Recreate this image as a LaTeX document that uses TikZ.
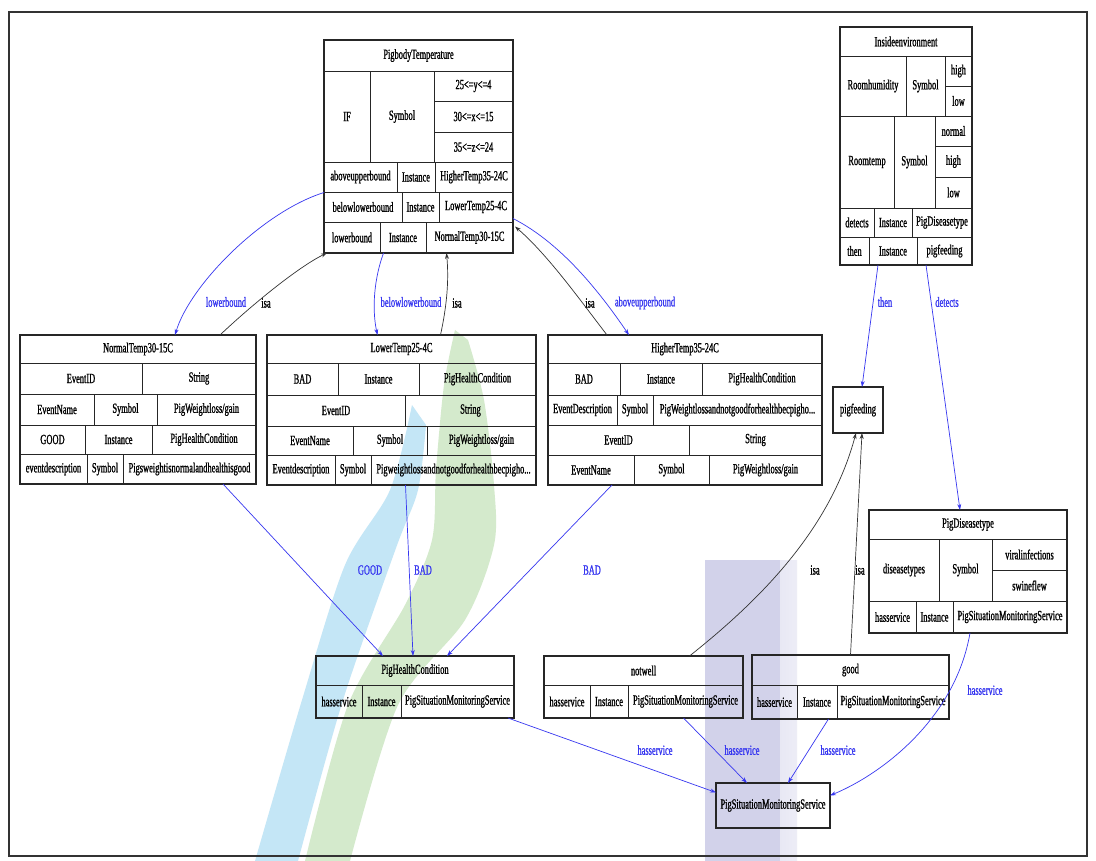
\documentclass[tikz,border=0pt]{standalone}
\usepackage{fontspec}
\setmainfont{Liberation Serif}
\newfontfamily\cellfont[FakeStretch=0.6,FakeBold=1]{Liberation Serif}
\usetikzlibrary{arrows.meta,calc,fit}

\definecolor{edgeblue}{RGB}{55,55,240}
\definecolor{wmblue}{RGB}{196,230,246}
\definecolor{wmgreen}{RGB}{212,234,204}
\definecolor{wmpurple}{RGB}{210,210,234}

\tikzset{
  cellnode/.style={draw=black!85, line width=0.9pt, inner sep=0pt, outer sep=0pt,
    font=\cellfont\fontsize{14}{15}\selectfont},
  tablebox/.style={draw=black!85, line width=1.3pt, inner sep=0pt, outer sep=0pt},
  rel/.style={line width=0.7pt, -{Stealth[length=6pt,width=4pt]}},
  blueedge/.style={rel, draw=edgeblue},
  isaedge/.style={rel, draw=black!80},
  elabel/.style={font=\cellfont\fontsize{14}{15}\selectfont, text=edgeblue, inner sep=1pt},
  isalabel/.style={elabel, text=black},
}

% one record cell: name, x1, y1, x2, y2, text (pixel units, y downwards)
\newcommand\cell[6]{%
  \node[cellnode, minimum width={(#4-#2)*1pt}, minimum height={(#5-#3)*1pt}]
    (#1) at ({(#2+#4)/2},{(#3+#5)/2}) {\makebox[0pt]{#6}};}

\begin{document}
\begin{tikzpicture}[x=1pt,y=-1pt]
\useasboundingbox (0,0) rectangle (1096,861);
\fill[white] (0,0) rectangle (1096,861);

% background emblem
\fill[left color=wmpurple, right color=wmpurple!40] (705,560) rectangle (797,861);
\fill[wmpurple] (705,560) rectangle (780,861);
\fill[wmblue] plot[smooth] coordinates {(255,861)(302,700)(345,565)(390,490)(412,405)}
  -- plot[smooth] coordinates {(426,425)(418,490)(396,548)(343,700)(298,861)} -- cycle;
\fill[wmgreen] plot[smooth] coordinates {(305,861)(348,705)(405,605)(432,540)(436,470)(444,385)(455,330)}
  -- plot[smooth] coordinates {(468,340)(484,400)(494,485)(494,545)(465,620)(398,705)(350,861)} -- cycle;

% frame
\draw[black!80, line width=1.2pt] (9,12) rectangle (1087,856);

% ---------------- PigbodyTemperature
\cell{pt-h}{324}{40}{513}{71}{PigbodyTemperature}
\cell{pt-if}{324}{71}{370}{162}{IF}
\cell{pt-sym}{370}{71}{434}{162}{Symbol}
\cell{pt-v1}{434}{71}{513}{101}{25<=y<=4}
\cell{pt-v2}{434}{101}{513}{132}{30<=x<=15}
\cell{pt-v3}{434}{132}{513}{162}{35<=z<=24}
\cell{pt-a1}{324}{162}{397}{192}{aboveupperbound}
\cell{pt-a2}{397}{162}{435}{192}{Instance}
\cell{pt-a3}{435}{162}{513}{192}{HigherTemp35-24C}
\cell{pt-b1}{324}{192}{402}{222}{belowlowerbound}
\cell{pt-b2}{402}{192}{439}{222}{Instance}
\cell{pt-b3}{439}{192}{513}{222}{LowerTemp25-4C}
\cell{pt-c1}{324}{222}{380}{253}{lowerbound}
\cell{pt-c2}{380}{222}{426}{253}{Instance}
\cell{pt-c3}{426}{222}{513}{253}{NormalTemp30-15C}
\node[tablebox, fit=(pt-h)(pt-c1)(pt-c3)] (pt) {};

% ---------------- Insideenvironment
\cell{ie-h}{840}{27}{972}{56}{Insideenvironment}
\cell{ie-rh}{840}{56}{906}{116}{Roomhumidity}
\cell{ie-s1}{906}{56}{945}{116}{Symbol}
\cell{ie-hh}{945}{56}{972}{86}{high}
\cell{ie-hl}{945}{86}{972}{116}{low}
\cell{ie-rt}{840}{116}{894}{208}{Roomtemp}
\cell{ie-s2}{894}{116}{935}{208}{Symbol}
\cell{ie-tn}{935}{116}{972}{146}{normal}
\cell{ie-th}{935}{146}{972}{177}{high}
\cell{ie-tl}{935}{177}{972}{208}{low}
\cell{ie-d1}{840}{208}{874}{237}{detects}
\cell{ie-d2}{874}{208}{912}{237}{Instance}
\cell{ie-d3}{912}{208}{972}{237}{PigDiseasetype}
\cell{ie-t1}{840}{237}{869}{265}{then}
\cell{ie-t2}{869}{237}{917}{265}{Instance}
\cell{ie-t3}{917}{237}{972}{265}{pigfeeding}
\node[tablebox, fit=(ie-h)(ie-t1)(ie-t3)] (ie) {};

% ---------------- NormalTemp30-15C
\cell{nt-h}{20}{335}{256}{363}{NormalTemp30-15C}
\cell{nt-1a}{20}{363}{142}{394}{EventID}
\cell{nt-1b}{142}{363}{256}{394}{String}
\cell{nt-2a}{20}{394}{94}{425}{EventName}
\cell{nt-2b}{94}{394}{157}{425}{Symbol}
\cell{nt-2c}{157}{394}{256}{425}{PigWeightloss/gain}
\cell{nt-3a}{20}{425}{85}{454}{GOOD}
\cell{nt-3b}{85}{425}{152}{454}{Instance}
\cell{nt-3c}{152}{425}{256}{454}{PigHealthCondition}
\cell{nt-4a}{20}{454}{87}{484}{eventdescription}
\cell{nt-4b}{87}{454}{123}{484}{Symbol}
\cell{nt-4c}{123}{454}{256}{484}{Pigsweightisnormalandhealthisgood}
\node[tablebox, fit=(nt-h)(nt-4a)(nt-4c)] (nt) {};

% ---------------- LowerTemp25-4C
\cell{lt-h}{267}{335}{536}{363}{LowerTemp25-4C}
\cell{lt-1a}{267}{363}{338}{395}{BAD}
\cell{lt-1b}{338}{363}{419}{395}{Instance}
\cell{lt-1c}{419}{363}{536}{395}{PigHealthCondition}
\cell{lt-2a}{267}{395}{405}{426}{EventID}
\cell{lt-2b}{405}{395}{536}{426}{String}
\cell{lt-3a}{267}{426}{353}{455}{EventName}
\cell{lt-3b}{353}{426}{427}{455}{Symbol}
\cell{lt-3c}{427}{426}{536}{455}{PigWeightloss/gain}
\cell{lt-4a}{267}{455}{335}{485}{Eventdescription}
\cell{lt-4b}{335}{455}{371}{485}{Symbol}
\cell{lt-4c}{371}{455}{536}{485}{Pigweightlossandnotgoodforhealthbecpigho...}
\node[tablebox, fit=(lt-h)(lt-4a)(lt-4c)] (lt) {};

% ---------------- HigherTemp35-24C
\cell{ht-h}{548}{335}{822}{363}{HigherTemp35-24C}
\cell{ht-1a}{548}{363}{620}{395}{BAD}
\cell{ht-1b}{620}{363}{702}{395}{Instance}
\cell{ht-1c}{702}{363}{822}{395}{PigHealthCondition}
\cell{ht-2a}{548}{395}{617}{425}{EventDescription}
\cell{ht-2b}{617}{395}{653}{425}{Symbol}
\cell{ht-2c}{653}{395}{822}{425}{PigWeightlossandnotgoodforhealthbecpigho...}
\cell{ht-3a}{548}{425}{689}{455}{EventID}
\cell{ht-3b}{689}{425}{822}{455}{String}
\cell{ht-4a}{548}{455}{634}{485}{EventName}
\cell{ht-4b}{634}{455}{709}{485}{Symbol}
\cell{ht-4c}{709}{455}{822}{485}{PigWeightloss/gain}
\node[tablebox, fit=(ht-h)(ht-4a)(ht-4c)] (ht) {};

% ---------------- pigfeeding
\cell{pf-c}{833}{387}{883}{433}{pigfeeding}
\node[tablebox, fit=(pf-c)] (pf) {};

% ---------------- PigDiseasetype
\cell{pd-h}{869}{510}{1067}{539}{PigDiseasetype}
\cell{pd-dt}{869}{539}{939}{601}{diseasetypes}
\cell{pd-s}{939}{539}{992}{601}{Symbol}
\cell{pd-v1}{992}{539}{1067}{570}{viralinfections}
\cell{pd-v2}{992}{570}{1067}{601}{swineflew}
\cell{pd-1}{869}{601}{916}{633}{hasservice}
\cell{pd-2}{916}{601}{953}{633}{Instance}
\cell{pd-3}{953}{601}{1067}{633}{PigSituationMonitoringService}
\node[tablebox, fit=(pd-h)(pd-1)(pd-3)] (pd) {};

% ---------------- PigHealthCondition
\cell{phc-h}{316}{656}{514}{685}{PigHealthCondition}
\cell{phc-1}{316}{685}{362}{718}{hasservice}
\cell{phc-2}{362}{685}{401}{718}{Instance}
\cell{phc-3}{401}{685}{514}{718}{PigSituationMonitoringService}
\node[tablebox, fit=(phc-h)(phc-1)(phc-3)] (phc) {};

% ---------------- notwell
\cell{nw-h}{544}{656}{743}{685}{notwell}
\cell{nw-1}{544}{685}{590}{718}{hasservice}
\cell{nw-2}{590}{685}{628}{718}{Instance}
\cell{nw-3}{628}{685}{743}{718}{PigSituationMonitoringService}
\node[tablebox, fit=(nw-h)(nw-1)(nw-3)] (nw) {};

% ---------------- good
\cell{gd-h}{752}{655}{949}{685}{good}
\cell{gd-1}{752}{685}{797}{719}{hasservice}
\cell{gd-2}{797}{685}{837}{719}{Instance}
\cell{gd-3}{837}{685}{949}{719}{PigSituationMonitoringService}
\node[tablebox, fit=(gd-h)(gd-1)(gd-3)] (gd) {};

% ---------------- PigSituationMonitoringService
\cell{ps-c}{716}{783}{830}{828}{PigSituationMonitoringService}
\node[tablebox, fit=(ps-c)] (ps) {};

% ---------------- relations around PigbodyTemperature
\draw[blueedge] ($(pt.west)+(0,46)$) .. controls (262,212) and (190,285) .. ($(nt.north)+(37,0)$);
\node[elabel] (l-lower) at (226,302) {lowerbound};
\draw[isaedge] ($(nt.north)+(82,0)$) .. controls (255,302) and (300,266) .. ($(pt.south west)+(3,0)$);
\node[isalabel] (l-isa1) at (266,303) {isa};
\draw[blueedge] ($(pt.south)+(-35,0)$) .. controls (372,285) and (373,315) .. ($(lt.north)+(-24,0)$);
\node[elabel] (l-below) at (411,302) {belowlowerbound};
\draw[isaedge] ($(lt.north)+(39,0)$) .. controls (447,305) and (449,280) .. ($(pt.south)+(28,0)$);
\node[isalabel] (l-isa2) at (457,303) {isa};
\draw[isaedge] ($(ht.north)+(-78,0)$) .. controls (580,300) and (548,255) .. ($(pt.east)+(2,80)$);
\node[isalabel] (l-isa3) at (590,303) {isa};
\draw[blueedge] ($(pt.east)+(0,72)$) .. controls (565,245) and (605,300) .. ($(ht.north)+(-56,0)$);
\node[elabel] (l-above) at (645,303) {aboveupperbound};

% ---------------- relations of Insideenvironment
\draw[blueedge] ($(ie.south)+(-28,0)$) -- ($(pf.north)+(4,0)$);
\node[elabel] (l-then) at (885,302) {then};
\draw[blueedge] ($(ie.south)+(20,0)$) -- ($(pd.north)+(-8,0)$);
\node[elabel] (l-detects) at (947,302) {detects};

% ---------------- events to PigHealthCondition
\draw[blueedge] ($(nt.south)+(85,0)$) -- ($(phc.north)+(-32,0)$);
\node[elabel] (l-good) at (370,570) {GOOD};
\draw[blueedge] ($(lt.south)+(4,0)$) -- ($(phc.north)+(-2,0)$);
\node[elabel] (l-bad1) at (423,570) {BAD};
\draw[blueedge] ($(ht.south)+(-73,0)$) -- ($(phc.north)+(32,0)$);
\node[elabel] (l-bad2) at (592,570) {BAD};

% ---------------- states to pigfeeding
\draw[isaedge] ($(nw.north)+(46,0)$) .. controls (760,600) and (830,530) .. ($(pf.south)+(-2,0)$);
\node[isalabel] (l-isa4) at (815,570) {isa};
\draw[isaedge] (gd.north) -- ($(pf.south)+(4,0)$);
\node[isalabel] (l-isa5) at (860,570) {isa};

% ---------------- services
\draw[blueedge] ($(phc.south east)+(-6,0)$) -- ($(ps.west)+(0,-13)$);
\node[elabel] (l-hs1) at (655,750) {hasservice};
\draw[blueedge] ($(nw.south)+(40,0)$) -- ($(ps.north)+(-26,0)$);
\node[elabel] (l-hs2) at (742,750) {hasservice};
\draw[blueedge] ($(gd.south)+(-22,0)$) -- ($(ps.north)+(15,0)$);
\node[elabel] (l-hs3) at (838,750) {hasservice};
\draw[blueedge] ($(pd.south)+(2,0)$) .. controls (955,720) and (880,775) .. ($(ps.east)+(0,-10)$);
\node[elabel] (l-hs4) at (985,690) {hasservice};
\end{tikzpicture}
\end{document}
